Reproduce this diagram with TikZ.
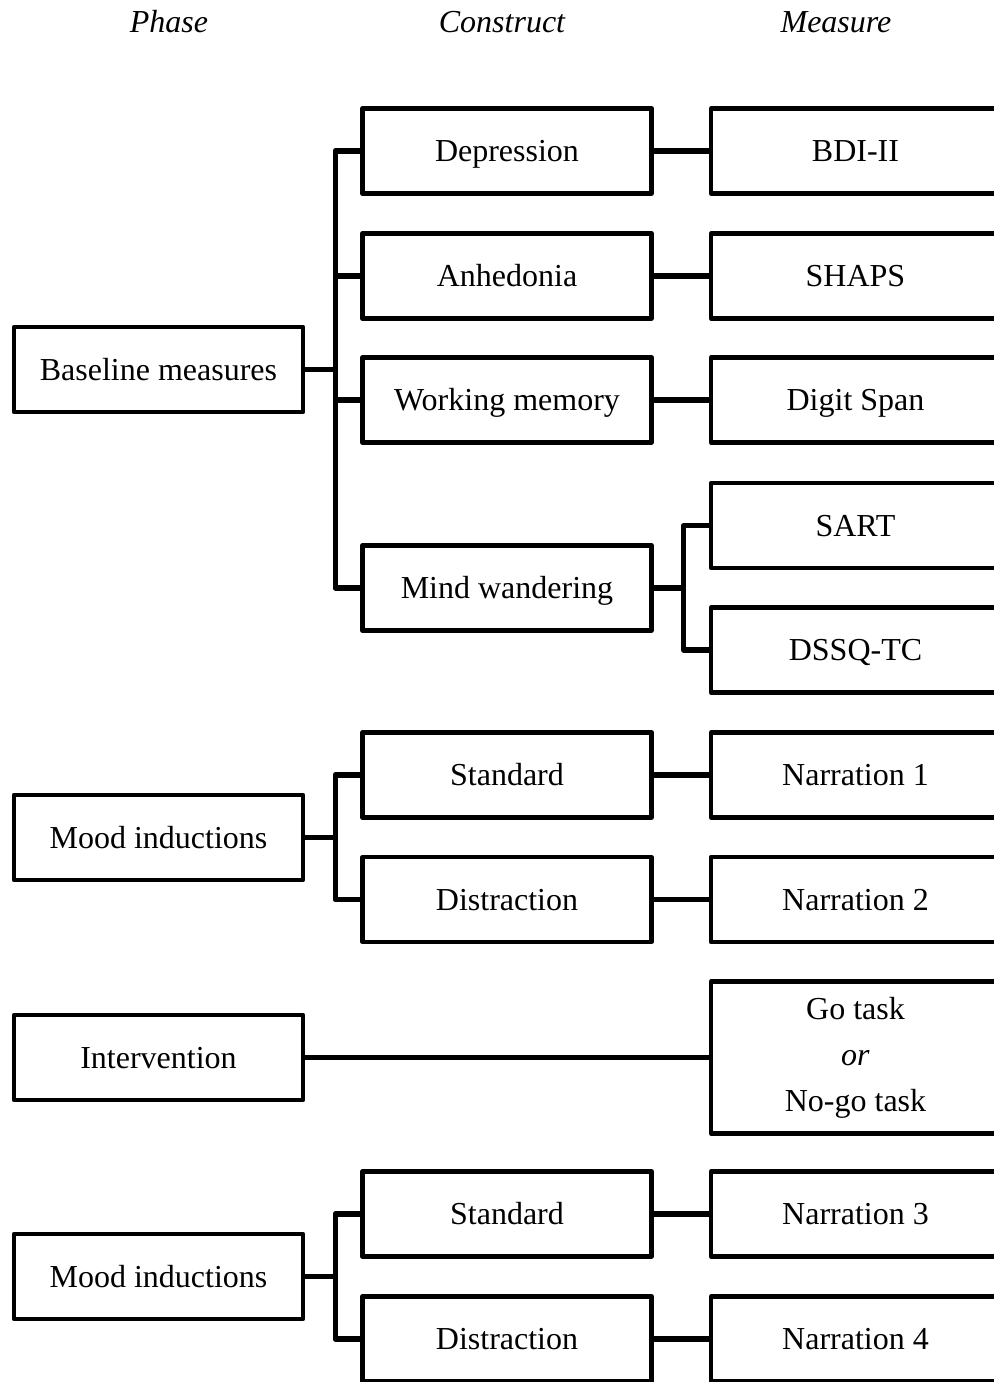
\documentclass[tikz,border=0pt]{standalone}
\usepackage{fontspec}
\setmainfont{Liberation Serif}

\tikzset{
    box/.style={draw, line width=2.1pt, minimum width=144.5pt, minimum height=42.5pt, inner sep=0pt, align=center, text height=10.6pt, text depth=0pt, font=\fontsize{16}{23}\selectfont},
    head/.style={font=\fontsize{16}{19}\selectfont\itshape},
    link/.style={line width=2.6pt, line join=round},
}

\begin{document}
\begin{tikzpicture}[x=0.5pt, y=-0.5pt, line join=round]
    \useasboundingbox (0,0) rectangle (994,1382);
    \clip (0,0) rectangle (994,1382);

    % column heads
    \node[head] (hphase) at (169,22) {Phase};
    \node[head] (hconstruct) at (502,22) {Construct};
    \node[head] (hmeasure) at (836,22) {Measure};

    % phases
    \node[box] (base) at (158.5,369.5) {Baseline measures};
    \node[box] (mood1) at (158.5,837.5) {Mood inductions};
    \node[box] (interv) at (158.5,1057.5) {Intervention};
    \node[box] (mood2) at (158.5,1276.5) {Mood inductions};

    % constructs
    \node[box] (dep) at (507,151) {Depression};
    \node[box] (anh) at (507,276) {Anhedonia};
    \node[box] (wm) at (507,400) {Working memory};
    \node[box] (mw) at (507,588) {Mind wandering};
    \node[box] (std1) at (507,775) {Standard};
    \node[box] (dis1) at (507,899.5) {Distraction};
    \node[box] (std2) at (507,1214) {Standard};
    \node[box] (dis2) at (507,1339) {Distraction};

    % measures
    \node[box] (bdi) at (855.5,151) {BDI-II};
    \node[box] (shaps) at (855.5,276) {SHAPS};
    \node[box] (digit) at (855.5,400) {Digit Span};
    \node[box] (sart) at (855.5,525.5) {SART};
    \node[box] (dssq) at (855.5,650) {DSSQ-TC};
    \node[box] (nar1) at (855.5,775) {Narration 1};
    \node[box] (nar2) at (855.5,899.5) {Narration 2};
    \node[box, minimum height=76pt, text height=, text depth=] (gonogo) at (855.5,1057.5) {Go task\\\textit{or}\\No-go task};
    \node[box] (nar3) at (855.5,1214) {Narration 3};
    \node[box] (nar4) at (855.5,1339) {Narration 4};

    \foreach \c in {dep, anh, wm, mw}
        \draw[link] (base.east) -- ++(30,0) |- (\c.west);
    \foreach \c in {std1, dis1}
        \draw[link] (mood1.east) -- ++(30,0) |- (\c.west);
    \foreach \c in {std2, dis2}
        \draw[link] (mood2.east) -- ++(30,0) |- (\c.west);
    \foreach \m in {sart, dssq}
        \draw[link] (mw.east) -- ++(30,0) |- (\m.west);

    \draw[link] (dep) -- (bdi);
    \draw[link] (anh) -- (shaps);
    \draw[link] (wm) -- (digit);
    \draw[link] (std1) -- (nar1);
    \draw[link] (dis1) -- (nar2);
    \draw[link] (interv.east) -- (interv.east -| gonogo.west);
    \draw[link] (std2) -- (nar3);
    \draw[link] (dis2) -- (nar4);
\end{tikzpicture}
\end{document}
